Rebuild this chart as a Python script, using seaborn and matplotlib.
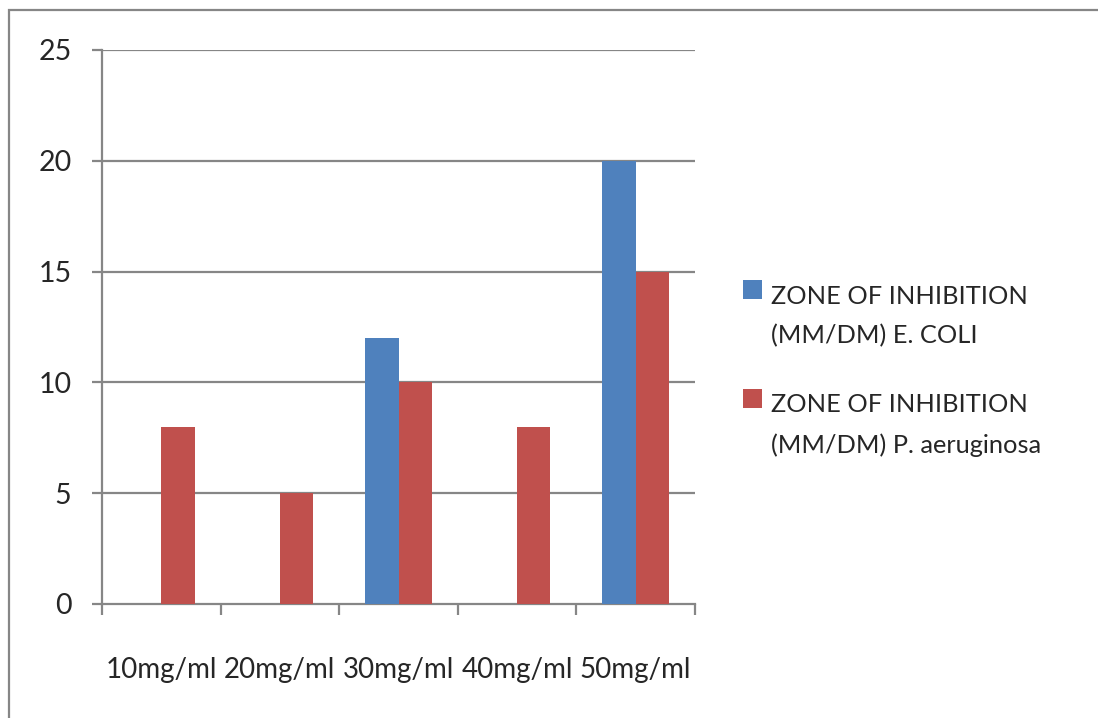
import pandas as pd
import matplotlib
matplotlib.use("Agg")
import matplotlib.pyplot as plt
import seaborn as sns
from matplotlib.patches import Rectangle

# data
concentrations = ["10mg/ml", "20mg/ml", "30mg/ml", "40mg/ml", "50mg/ml"]
e_coli = [0, 0, 12, 0, 20]
p_aeruginosa = [8, 5, 10, 8, 15]
series_names = ["ZONE OF INHIBITION\n(MM/DM) E. COLI",
                "ZONE OF INHIBITION\n(MM/DM) P. aeruginosa"]
colors = ["#4F81BD", "#C0504D"]
grid_grey = "#868686"

df = pd.DataFrame({
    "conc": concentrations * 2,
    "value": e_coli + p_aeruginosa,
    "series": [series_names[0]] * 5 + [series_names[1]] * 5,
})

sns.set_theme(style="white")
plt.rcParams["font.family"] = ["Lato", "DejaVu Sans"]

W, H = 1098, 718
fig = plt.figure(figsize=(W / 100, H / 100), dpi=100)
ax = fig.add_axes([102 / W, 1 - 604 / H, (695 - 102) / W, (604 - 50) / H])

sns.barplot(data=df, x="conc", y="value", hue="series", palette=colors,
            width=0.56, saturation=1, linewidth=0, ax=ax, legend=False, zorder=3)

ax.set_xlim(-0.5, 4.5)
ax.set_ylim(0, 25)
ax.set_yticks([0, 5, 10, 15, 20, 25])
ax.set_xlabel("")
ax.set_ylabel("")

# gridlines drawn behind the bars
for v in [5, 10, 15, 20, 25]:
    ax.axhline(v, color=grid_grey, lw=1.6, zorder=1)

for s in ["top", "right"]:
    ax.spines[s].set_visible(False)
for s in ["left", "bottom"]:
    ax.spines[s].set_color(grid_grey)
    ax.spines[s].set_linewidth(1.6)

ax.tick_params(axis="y", which="major", direction="out", length=7, width=1.6,
               color=grid_grey, pad=15, labelsize=20.5, left=True)
ax.tick_params(axis="x", which="major", length=0, pad=38, labelsize=20)
ax.set_xticks([-0.5, 0.5, 1.5, 2.5, 3.5, 4.5], minor=True)
ax.tick_params(axis="x", which="minor", direction="out", length=8, width=1.6,
               color=grid_grey, bottom=True)

# legend drawn by hand: square beside the first line of each two-line label
legend_tops = [280, 389]
for name, col, top in zip(series_names, colors, legend_tops):
    fig.patches.append(Rectangle((743 / W, 1 - (top + 19) / H), 19 / W, 19 / H,
                                 transform=fig.transFigure, facecolor=col,
                                 edgecolor="none"))
    fig.text(771 / W, 1 - (top + 36) / H, name, fontsize=18.3, va="center",
             ha="left", linespacing=1.85)

# outer chart border
fig.patches.append(Rectangle((9 / W, -0.05), 1.2, 1 - 10 / H + 0.05,
                             transform=fig.transFigure, fill=False,
                             edgecolor=grid_grey, lw=1.6, clip_on=False))

fig.savefig("out.png", dpi=100)
